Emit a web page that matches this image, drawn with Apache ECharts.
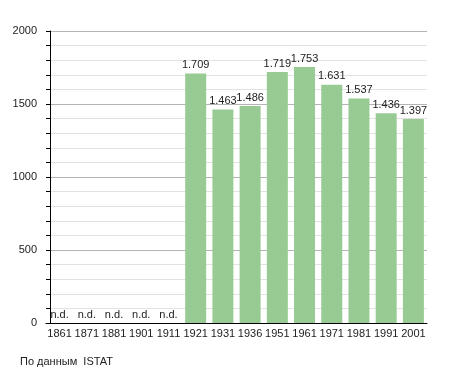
<!DOCTYPE html>
<html><head><meta charset="utf-8">
<script src="https://cdn.jsdelivr.net/npm/echarts@6/dist/echarts.min.js"></script>
<style>html,body{margin:0;padding:0;background:#fff}#c{width:455px;height:373px}</style>
</head><body><div id="c"></div>
<script>
var years = ['1861','1871','1881','1901','1911','1921','1931','1936','1951','1961','1971','1981','1991','2001'];
var population = [null,null,null,null,null,1709,1463,1486,1719,1753,1631,1537,1436,1397];
var yTicks = [0,500,1000,1500,2000];
var sourceText = 'По данным  ISTAT';

function fmt(v){ var s=String(v); return s.length>3 ? s.slice(0,s.length-3)+'.'+s.slice(-3) : s; }

var chart = echarts.init(document.getElementById('c'), null, {renderer:'canvas'});
var font = 'Liberation Sans, Arial, sans-serif';
chart.setOption({
  animation:false,
  grid:{left:46, right:28, top:31, bottom:50, containLabel:false},
  xAxis:{
    type:'category', data:years, boundaryGap:true,
    axisLine:{lineStyle:{color:'#000', width:1}},
    axisTick:{show:false},
    axisLabel:{color:'#222', fontSize:11, fontFamily:font, margin:5, interval:0}
  },
  yAxis:{
    type:'value', min:yTicks[0], max:yTicks[yTicks.length-1], interval:500, offset:-4,
    axisLine:{show:true, lineStyle:{color:'#000', width:1}},
    axisTick:{show:true, length:4, lineStyle:{color:'#000'}},
    minorTick:{show:true, splitNumber:5, length:4, lineStyle:{color:'#000'}},
    axisLabel:{color:'#222', fontSize:11, fontFamily:font, margin:13, formatter:function(v){return String(v);}},
    splitLine:{show:true, lineStyle:{color:'#b4b4b4', width:1}},
    minorSplitLine:{show:true, lineStyle:{color:'#e2e2e2', width:1}}
  },
  graphic:[{type:'text', left:20, top:356, style:{text:sourceText, fill:'#222', font:'11px '+font}}],
  series:[{
    type:'bar', barWidth:21,
    data: population.map(function(v){ return v==null ? {value:0} : v; }),
    itemStyle:{color:'#97cb93'},
    label:{show:true, position:'top', distance:3, color:'#222', fontSize:11, fontFamily:font,
      formatter:function(p){ return population[p.dataIndex]==null ? 'n.d.' : fmt(p.value); }}
  }]
});
</script></body></html>
